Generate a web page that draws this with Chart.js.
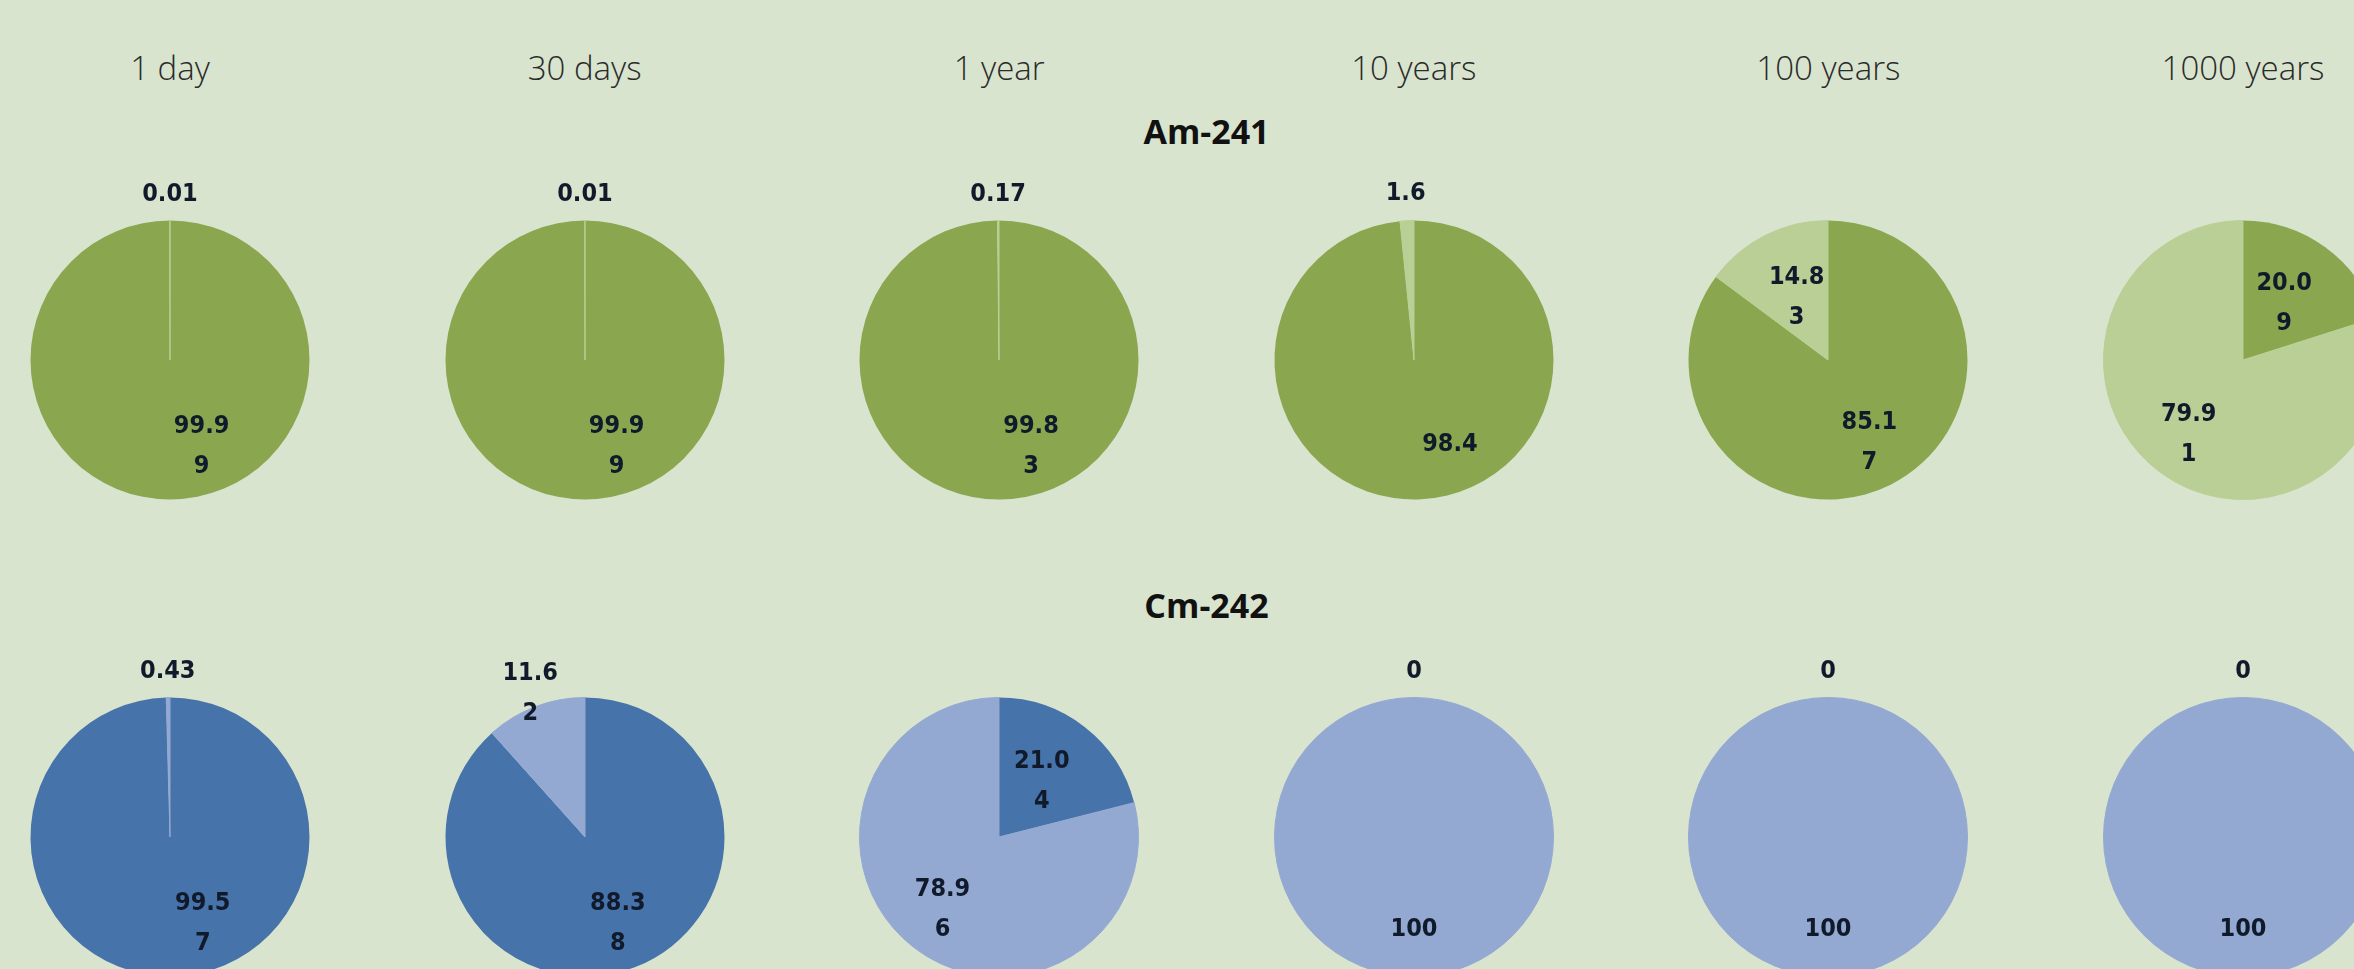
<!DOCTYPE html>
<html lang="en">
<head>
<meta charset="UTF-8">
<title>Am-241 / Cm-242 decay pies</title>
<script src="https://cdn.jsdelivr.net/npm/chart.js@4"></script>
<style>
  html, body { margin: 0; padding: 0; }
  body {
    width: 2354px; height: 969px; overflow: hidden;
    background: #d8e4ce; position: relative;
    font-family: 'Open Sans', 'Liberation Sans', sans-serif;
  }
  .head {
    position: absolute; width: 400px; text-align: center;
    font-size: 33px; font-weight: 300; color: #2b2b2b; line-height: 1;
  }
  .title {
    position: absolute; width: 600px; text-align: center;
    font-size: 34px; font-weight: 700; color: #111; line-height: 1;
  }
  .pie { position: absolute; width: 400px; height: 400px; }
</style>
</head>
<body>
<script>
  // time after discharge
  var periods = ['1 day', '30 days', '1 year', '10 years', '100 years', '1000 years'];

  // Am-241: share left vs. daughter share (%)
  var amParent   = [99.99, 99.99, 99.83, 98.4, 85.17, 20.09];
  var amDaughter = [0.01, 0.01, 0.17, 1.6, 14.83, 79.91];

  // Cm-242
  var cmParent   = [99.57, 88.38, 21.04, 0, 0, 0];
  var cmDaughter = [0.43, 11.62, 78.96, 100, 100, 100];

  var rows = [
    { name: 'Am-241', parent: amParent, daughter: amDaughter, colors: ['#8aa64f', '#bacf96'], cy: 360, titleY: 114 },
    { name: 'Cm-242', parent: cmParent, daughter: cmDaughter, colors: ['#4673a9', '#93a9d2'], cy: 837, titleY: 588 }
  ];

  var firstX = 170, stepX = 414.6;

  // data labels, placed from each arc's own geometry (Excel "best fit" look)
  var sliceLabels = {
    id: 'sliceLabels',
    afterDatasetsDraw: function (chart) {
      var ctx = chart.ctx;
      var meta = chart.getDatasetMeta(0);
      var values = chart.data.datasets[0].data;
      ctx.save();
      ctx.font = "bold 25px 'DejaVu Sans Condensed', 'Liberation Sans Narrow', 'DejaVu Sans', sans-serif";
      ctx.fillStyle = '#111a2b';
      ctx.textAlign = 'center';
      ctx.textBaseline = 'middle';
      meta.data.forEach(function (arc, i) {
        var v = values[i];
        var p = arc.getProps(['x', 'y', 'startAngle', 'endAngle', 'outerRadius'], true);
        var mid = (p.startAngle + p.endAngle) / 2;
        var text = String(v);
        var lines = text.length > 4 ? [text.slice(0, 4), text.slice(4)] : [text];
        var lh = 40;
        var w = Math.max.apply(null, lines.map(function (l) { return ctx.measureText(l).width; }));
        var h = 20 + (lines.length - 1) * lh;
        var dist;
        if (v < 5) dist = p.outerRadius + 16 + Math.abs(Math.cos(mid)) * w / 2 + Math.abs(Math.sin(mid)) * h / 2;
        else if (v < 13) dist = p.outerRadius * 1.1;
        else if (v < 30) dist = p.outerRadius * 0.5;
        else dist = p.outerRadius * 0.66;
        // nearly full slices: Excel nudges the label off the bottom toward the right
        if (v >= 95 && v < 100) mid -= 0.35;
        var x = p.x + Math.cos(mid) * dist;
        var y = p.y + Math.sin(mid) * dist;
        lines.forEach(function (l, k) {
          ctx.fillText(l, x, y + (k - (lines.length - 1) / 2) * lh);
        });
      });
      ctx.restore();
    }
  };

  // column headers
  periods.forEach(function (label, i) {
    var d = document.createElement('div');
    d.className = 'head';
    d.textContent = label;
    d.style.left = (firstX + i * stepX - 200) + 'px';
    d.style.top = '51px';
    document.body.appendChild(d);
  });

  rows.forEach(function (row) {
    var t = document.createElement('div');
    t.className = 'title';
    t.textContent = row.name;
    t.style.left = ((firstX + firstX + 5 * stepX) / 2 - 300) + 'px';
    t.style.top = row.titleY + 'px';
    document.body.appendChild(t);

    periods.forEach(function (label, i) {
      var wrap = document.createElement('div');
      wrap.className = 'pie';
      wrap.style.left = (firstX + i * stepX - 200) + 'px';
      wrap.style.top = (row.cy - 200) + 'px';
      var cv = document.createElement('canvas');
      cv.width = 400; cv.height = 400;
      wrap.appendChild(cv);
      document.body.appendChild(wrap);

      new Chart(cv.getContext('2d'), {
        type: 'pie',
        data: {
          labels: [row.name, 'daughter'],
          datasets: [{
            data: [row.parent[i], row.daughter[i]],
            backgroundColor: row.colors,
            borderColor: row.colors,
            borderWidth: function (c) { return c.dataIndex === 1 && c.raw > 0 ? 1 : 0; }
          }]
        },
        options: {
          responsive: false,
          animation: false,
          events: [],
          layout: { padding: 60 },
          plugins: { legend: { display: false }, tooltip: { enabled: false } }
        },
        plugins: [sliceLabels]
      });
    });
  });
</script>
</body>
</html>
